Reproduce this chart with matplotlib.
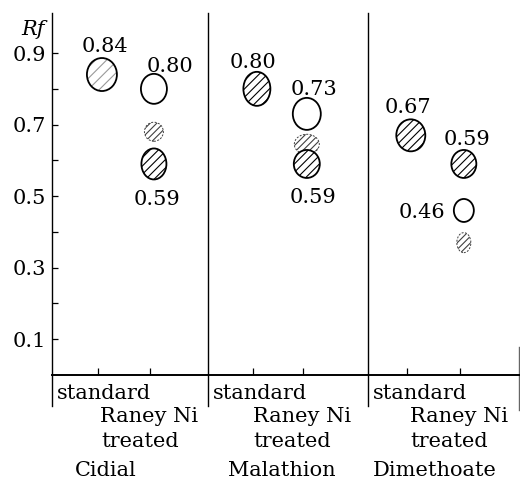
import numpy as np
import matplotlib
matplotlib.use("Agg")
import matplotlib.pyplot as plt
import matplotlib.transforms as mtransforms
from matplotlib.patches import Ellipse

plt.rcParams['font.family'] = ['DejaVu Serif']
plt.rcParams['hatch.linewidth'] = 0.8

# --- data ---
compounds = ["Cidial", "Malathion", "Dimethoate"]
lane_x = [0.96, 1.96, 3.94, 4.90, 6.90, 7.92]   # standard / Raney Ni treated for each compound
panel_edges = [0.0, 3.0, 6.08]

spot_lane = [0, 1, 1, 1, 2, 3, 3, 3, 4, 5, 5, 5]
spot_rf = [0.84, 0.80, 0.68, 0.59, 0.80, 0.73, 0.645, 0.59, 0.67, 0.59, 0.46, 0.37]
spot_label = ["0.84", "0.80", "", "0.59", "0.80", "0.73", "", "0.59", "0.67", "0.59", "0.46", ""]
spot_kind = ["light", "open", "faint", "hatch", "hatch", "open", "faint", "hatch",
             "hatch", "hatch", "open", "faint"]

rf_major = [0.1, 0.3, 0.5, 0.7, 0.9]
rf_minor = [0.2, 0.4, 0.6, 0.8]

# --- drawing style (pixels) ---
spot_w = [30, 26, 19, 25, 27, 28, 25, 26, 29, 25, 20, 14]
spot_h = [33, 30, 19, 31, 34, 32, 20, 28, 32, 28, 23, 20]
label_off = [(3, 22.7), (16, 17), None, (3, -41), (-4, 21), (7, 19), None, (6, -39),
             (-3, 22.5), (3, 19), (-42, -7.5), None]
name_dx = [-22, 0, -3]
PT = 0.72  # points per pixel at dpi 100

fig = plt.figure(figsize=(5.2, 4.8), dpi=100)
ax = fig.add_axes([52/520, 105/480, 468/520, 362/480])
ax.set_xlim(0, 9)
ax.set_ylim(0, 1.012)
sx = 468 / 9.0
sy = 362 / 1.012

for s in ['left', 'top', 'right']:
    ax.spines[s].set_visible(False)
ax.spines['bottom'].set_linewidth(1.4)

for e in panel_edges:
    ax.plot([e, e], [-0.087, 1.012], color='k', lw=1.0, clip_on=False)
ax.plot([8.985, 8.985], [-0.098, 0.078], color='0.4', lw=1.0, clip_on=False)

ax.set_yticks(rf_major)
ax.set_yticks(rf_minor, minor=True)
ax.yaxis.set_major_formatter('{x:.1f}')
ax.tick_params(axis='y', which='both', direction='in', length=4.5, width=0.9,
               labelsize=15, pad=4.3)
ax.set_xticks([x - 0.08 for x in lane_x])
ax.tick_params(axis='x', direction='in', length=5, width=0.9, labelbottom=False)

trans = mtransforms.blended_transform_factory(ax.transAxes, ax.transData)
ax.text(-7/468, 0.951, "Rf", transform=trans, ha='right', va='baseline',
        style='italic', fontsize=15)

# spots: faint ones first so the others overlap them
order = [i for i in range(len(spot_rf)) if spot_kind[i] == 'faint'] + \
        [i for i in range(len(spot_rf)) if spot_kind[i] != 'faint']
for i in order:
    x = lane_x[spot_lane[i]]
    y = spot_rf[i]
    w = spot_w[i] / sx
    h = spot_h[i] / sy
    k = spot_kind[i]
    if k == 'open':
        ax.add_patch(Ellipse((x, y), w, h, fc='white', ec='k', lw=1.3))
    elif k == 'hatch':
        ax.add_patch(Ellipse((x, y), w, h, fc='white', ec='k', lw=1.3, hatch='////'))
    elif k == 'light':
        ax.add_patch(Ellipse((x, y), w, h, fc='white', ec='0.6', lw=0, hatch='///'))
        ax.add_patch(Ellipse((x, y), w, h, fill=False, ec='k', lw=1.3))
    else:
        ax.add_patch(Ellipse((x, y), w, h, fc='white', ec='0.25', lw=0.7,
                             ls=(0, (2, 1.5)), hatch='/////'))
    if spot_label[i]:
        dx, dy = label_off[i]
        ax.annotate(spot_label[i], xy=(x, y), xytext=(dx*PT, dy*PT),
                    textcoords='offset points', ha='center', va='baseline',
                    fontsize=15, annotation_clip=False)

# lane and compound names under the origin line
for c, name in enumerate(compounds):
    std = lane_x[2*c]
    ran = lane_x[2*c + 1]
    ax.annotate("standard", xy=(panel_edges[c], 0), xytext=(4.5*PT, -24*PT),
                textcoords='offset points', ha='left', va='baseline',
                fontsize=15, annotation_clip=False)
    ax.annotate("Raney Ni", xy=(ran, 0), xytext=(-54*PT, -47*PT),
                textcoords='offset points', ha='left', va='baseline',
                fontsize=15, annotation_clip=False)
    ax.annotate("treated", xy=(ran, 0), xytext=(-53*PT, -72*PT),
                textcoords='offset points', ha='left', va='baseline',
                fontsize=15, annotation_clip=False)
    ax.annotate(name, xy=((std + ran) / 2, 0), xytext=(name_dx[c]*PT, -101*PT),
                textcoords='offset points', ha='center', va='baseline',
                fontsize=15, annotation_clip=False)

fig.savefig('out.png', dpi=100)
